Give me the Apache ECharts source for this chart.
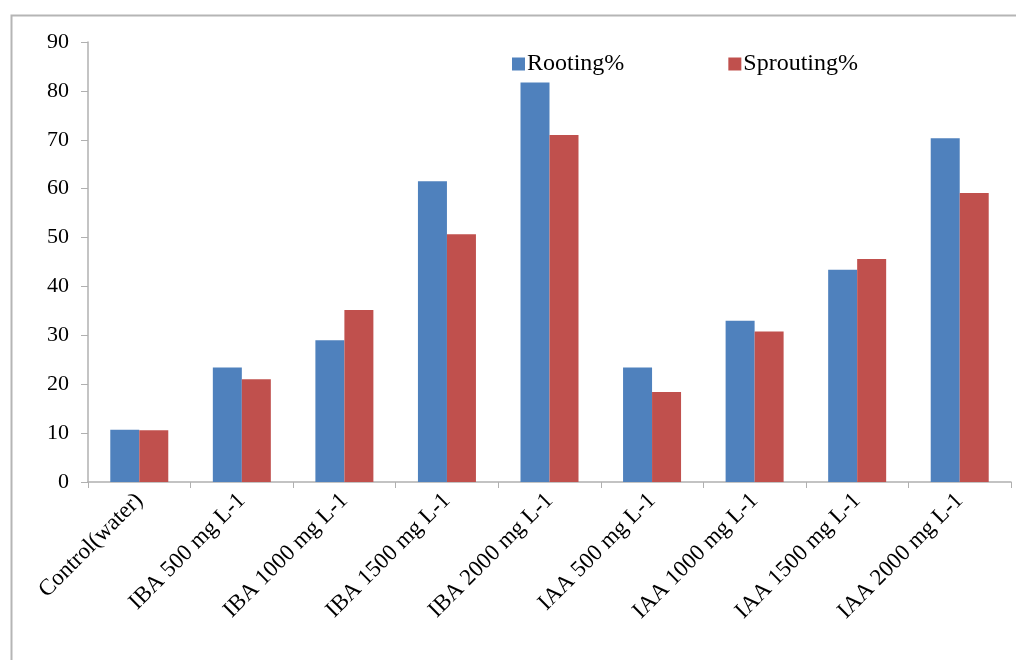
<!DOCTYPE html>
<html>
<head>
<meta charset="utf-8">
<script src="https://cdn.jsdelivr.net/npm/echarts@6/dist/echarts.min.js"></script>
<style>
html,body{margin:0;padding:0;background:#fff;}
#c{width:1016px;height:660px;}
</style>
</head>
<body>
<div id="c"></div>
<script>
const categories = ["Control(water)", "IBA 500 mg L-1", "IBA 1000 mg L-1", "IBA 1500 mg L-1", "IBA 2000 mg L-1", "IAA 500 mg L-1", "IAA 1000 mg L-1", "IAA 1500 mg L-1", "IAA 2000 mg L-1"];
const rooting = [10.7, 23.4, 29.0, 61.5, 81.7, 23.4, 33.0, 43.4, 70.3];
const sprouting = [10.6, 21.0, 35.2, 50.7, 71.0, 18.4, 30.8, 45.6, 59.1];
const yTicks = [0, 10, 20, 30, 40, 50, 60, 70, 80, 90];

const font = "'Liberation Serif', 'Times New Roman', serif";
const chart = echarts.init(document.getElementById('c'), null, {renderer: 'canvas'});
chart.setOption({
  animation: false,
  backgroundColor: '#fff',
  textStyle: {fontFamily: font},
  graphic: [{
    type: 'rect', left: 9, top: 13, z: -1,
    shape: {width: 1030, height: 680},
    style: {fill: 'none', stroke: '#b5b5b5', lineWidth: 2}
  }],
  legend: {
    left: 507, top: 47,
    itemWidth: 13, itemHeight: 13, itemGap: 104,
    icon: 'rect',
    textStyle: {fontFamily: font, fontSize: 24, color: '#000', padding: [0, 0, 0, -3]},
    data: ['Rooting%', 'Sprouting%']
  },
  grid: {left: 88, right: 5, top: 42, bottom: 178, containLabel: false},
  xAxis: {
    type: 'category',
    data: categories,
    axisLine: {lineStyle: {color: '#b0b0b0', width: 1.5}},
    axisTick: {show: true, length: 6, lineStyle: {color: '#b0b0b0'}},
    axisLabel: {rotate: 45, fontFamily: font, fontSize: 23, color: '#000', margin: 15, interval: 0}
  },
  yAxis: {
    type: 'value', min: 0, max: 90, interval: 10,
    axisLine: {show: true, lineStyle: {color: '#b0b0b0', width: 1.5}},
    axisTick: {show: true, length: 7, lineStyle: {color: '#b0b0b0'}},
    splitLine: {show: false},
    axisLabel: {
      fontFamily: font, fontSize: 22, color: '#000', margin: 19,
      formatter: v => yTicks.includes(v) ? String(v) : ''
    }
  },
  series: [
    {name: 'Rooting%', type: 'bar', data: rooting, barWidth: 29, barGap: '0%',
     itemStyle: {color: '#4F81BD'}},
    {name: 'Sprouting%', type: 'bar', data: sprouting, barWidth: 29, barGap: '0%',
     itemStyle: {color: '#C0504D'}}
  ]
});
</script>
</body>
</html>
